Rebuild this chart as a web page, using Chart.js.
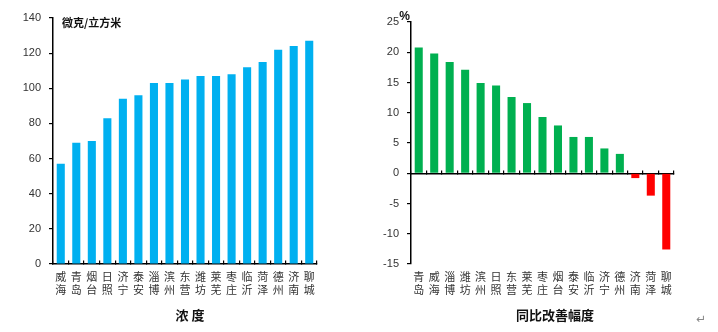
<!DOCTYPE html>
<html><head><meta charset="utf-8">
<script src="https://cdn.jsdelivr.net/npm/chart.js@4/dist/chart.umd.min.js"></script>
<style>
html,body{margin:0;padding:0;background:#fff;width:718px;height:332px;overflow:hidden;}
.wrap{position:absolute;top:0;height:332px;}
.ttl{position:absolute;top:306px;font:bold 13px "Noto Sans CJK SC",sans-serif;color:#111;transform:translateX(-50%);white-space:nowrap;line-height:18px;}
.mark{position:absolute;left:696px;top:312px;font:12px "DejaVu Sans",sans-serif;color:#888;}
</style></head><body>
<div class="wrap" style="left:0;width:360px"><canvas id="c1"></canvas></div>
<div class="wrap" style="left:360px;width:358px"><canvas id="c2"></canvas></div>
<div class="ttl" style="left:190px">浓 度</div>
<div class="ttl" style="left:555px">同比改善幅度</div>
<div class="mark">↵</div>
<script>
// Left chart: concentration (微克/立方米)
const concCities = [['威','海'],['青','岛'],['烟','台'],['日','照'],['济','宁'],['泰','安'],['淄','博'],['滨','州'],['东','营'],['潍','坊'],['莱','芜'],['枣','庄'],['临','沂'],['菏','泽'],['德','州'],['济','南'],['聊','城']];
const concValues = [57, 69, 70, 83, 94, 96, 103, 103, 105, 107, 107, 108, 112, 115, 122, 124, 127];
const concTicks = {min: 0, max: 140, step: 20};
const concUnit = '微克/立方米';

// Right chart: year-on-year improvement (%)
const chgCities = [['青','岛'],['威','海'],['淄','博'],['潍','坊'],['滨','州'],['日','照'],['东','营'],['莱','芜'],['枣','庄'],['烟','台'],['泰','安'],['临','沂'],['济','宁'],['德','州'],['济','南'],['菏','泽'],['聊','城']];
const chgValues = [20.8, 19.8, 18.4, 17.1, 14.9, 14.5, 12.6, 11.6, 9.3, 7.9, 6.0, 6.0, 4.1, 3.2, -0.8, -3.7, -12.6];
const chgTicks = {min: -15, max: 25, step: 5};
const chgUnit = '%';

Chart.defaults.animation = false;
Chart.defaults.responsive = true;
Chart.defaults.maintainAspectRatio = false;

const unitPlugin = {
  id: 'unitLabel',
  afterDraw(chart, args, opts) {
    const ctx = chart.ctx, a = chart.chartArea;
    ctx.save();
    ctx.font = 'bold 11px "Noto Sans CJK SC", sans-serif';
    ctx.fillStyle = '#111';
    ctx.textBaseline = 'middle';
    if (opts.side === 'inside') {
      ctx.textAlign = 'left';
      ctx.fillText(opts.text, a.left + 9, a.top + 5);
    } else {
      ctx.textAlign = 'right';
      ctx.font = 'bold 12px "Liberation Sans", Arial, sans-serif';
      ctx.fillText(opts.text, a.left - 1, a.top - 5);
    }
    ctx.restore();
  }
};

function makeChart(id, cats, vals, tk, colorFn, unit, side, yWidth, pad) {
  return new Chart(document.getElementById(id), {
    type: 'bar',
    data: {
      labels: cats,
      datasets: [{
        data: vals,
        backgroundColor: colorFn,
        borderWidth: 0,
        categoryPercentage: 1,
        barPercentage: 0.52
      }]
    },
    plugins: [unitPlugin],
    options: {
      layout: {padding: pad},
      plugins: {legend: {display: false}, tooltip: {enabled: false}, unitLabel: {text: unit, side: side}},
      scales: {
        x: {
          position: {y: 0},
          offset: true,
          ticks: {display: false},
          grid: {drawOnChartArea: false, offset: true, tickLength: -4, color: '#000', lineWidth: 1.2},
          border: {color: '#000', width: 1.5}
        },
        x2: {
          type: 'category',
          position: 'bottom',
          labels: cats,
          offset: true,
          grid: {display: false, drawTicks: false},
          border: {display: false},
          ticks: {
            padding: 6.5,
            maxRotation: 0, autoSkip: false,
            color: '#333',
            font: {family: '"Noto Sans CJK SC", sans-serif', size: 11, lineHeight: '13px'}
          },
          afterFit(s) { s.height = 68; }
        },
        y: {
          min: tk.min, max: tk.max,
          ticks: {stepSize: tk.step, padding: 8, color: '#333',
            font: {family: '"Liberation Sans", Arial, sans-serif', size: 11}},
          grid: {drawOnChartArea: false, tickLength: 4, color: '#000', lineWidth: 1.2},
          border: {color: '#000', width: 1.5},
          afterFit(s) { s.width = yWidth; }
        }
      }
    }
  });
}

makeChart('c1', concCities, concValues, concTicks, '#00B0F0', concUnit, 'inside', 53,
  {left: 0, right: 43, top: 18, bottom: 0});
makeChart('c2', chgCities, chgValues, chgTicks,
  (c) => (c.raw >= 0 ? '#00B050' : '#FF0000'), chgUnit, 'outside', 51,
  {left: 0, right: 44, top: 22, bottom: 0});
</script>
</body></html>
